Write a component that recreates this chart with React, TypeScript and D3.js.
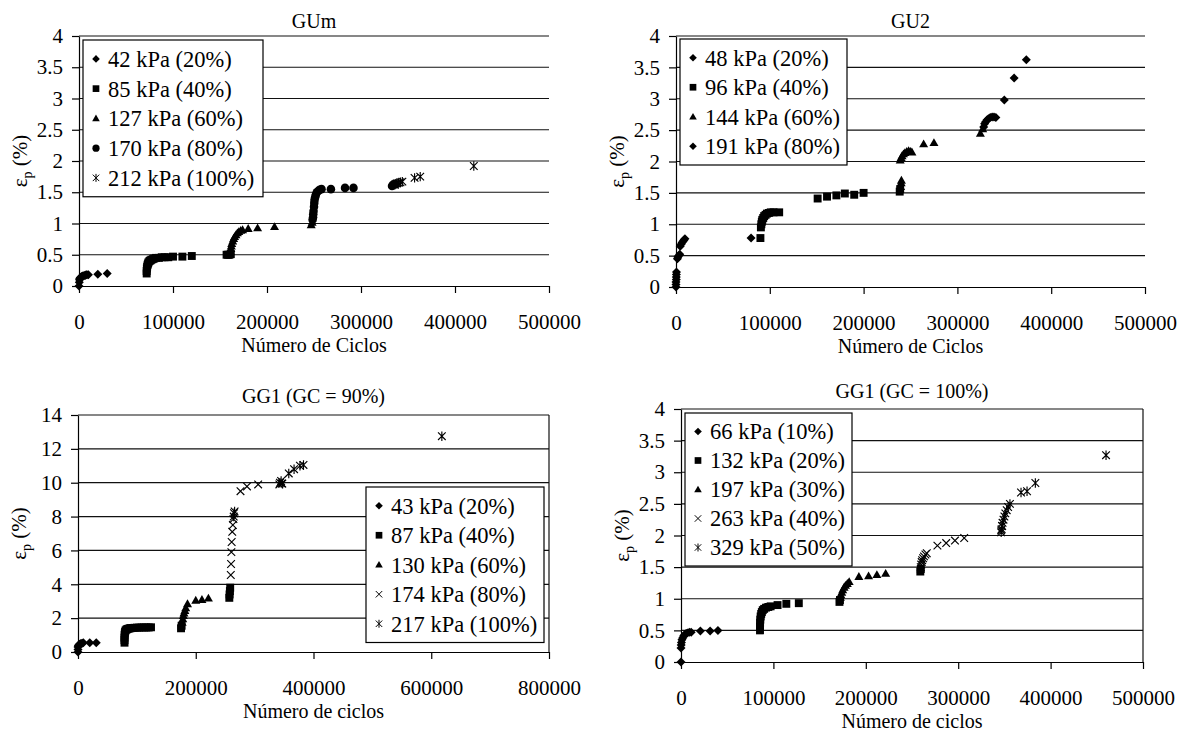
import { useEffect, useRef } from "react";
import * as d3 from "d3";

type Pt = [number, number];

// ---- GUm ----
const gumLabels = ["42 kPa (20%)", "85 kPa (40%)", "127 kPa (60%)", "170 kPa (80%)", "212 kPa (100%)"];
const gumMarkers = ["diamond", "square", "triangle", "circle", "asterisk"];
const gum42: Pt[] = [[0, 0], [300, 0.06], [500, 0.1], [800, 0.12], [1200, 0.13], [1800, 0.14], [2500, 0.15], [3500, 0.16], [4500, 0.16], [5500, 0.17], [6500, 0.17], [7500, 0.18], [8500, 0.18], [10000, 0.18], [20000, 0.19], [30000, 0.2]];
const gum85: Pt[] = [[72000, 0.2], [72000, 0.24], [72200, 0.28], [72500, 0.31], [73000, 0.34], [73500, 0.36], [74000, 0.38], [75000, 0.4], [76000, 0.41], [77000, 0.42], [78500, 0.43], [80000, 0.44], [82000, 0.45], [85000, 0.45], [88000, 0.46], [91000, 0.46], [95000, 0.46], [100000, 0.47], [110000, 0.47], [120000, 0.48], [157000, 0.5], [158500, 0.5], [160000, 0.5], [161500, 0.51]];
const gum127: Pt[] = [[161000, 0.55], [161500, 0.6], [162000, 0.64], [162500, 0.68], [163500, 0.72], [164500, 0.76], [165500, 0.79], [167000, 0.82], [168500, 0.85], [170000, 0.87], [172000, 0.89], [174000, 0.9], [180000, 0.92], [190000, 0.93], [208000, 0.95], [247000, 0.98], [248000, 1.02]];
const gum170: Pt[] = [[248500, 1.06], [249000, 1.1], [249200, 1.15], [249500, 1.2], [250000, 1.27], [250300, 1.33], [250600, 1.38], [251200, 1.42], [252000, 1.46], [253000, 1.5], [254500, 1.52], [256000, 1.54], [258000, 1.55], [268000, 1.55], [283000, 1.57], [292000, 1.57], [333000, 1.6], [334000, 1.62], [335500, 1.63], [337000, 1.63]];
const gum212: Pt[] = [[336000, 1.62], [338000, 1.64], [340000, 1.65], [342000, 1.66], [344000, 1.67], [357000, 1.73], [363000, 1.75], [420000, 1.92]];

// ---- GU2 ----
const gu2Labels = ["48 kPa (20%)", "96 kPa (40%)", "144 kPa (60%)", "191 kPa (80%)"];
const gu2Markers = ["diamond", "square", "triangle", "diamond"];
const gu2_48: Pt[] = [[0, 0], [0, 0.04], [0, 0.08], [300, 0.12], [300, 0.16], [400, 0.2], [500, 0.24], [1500, 0.45], [2000, 0.48], [3000, 0.5], [4000, 0.52], [4500, 0.65], [5500, 0.68], [6500, 0.71], [7500, 0.73], [8500, 0.75], [9500, 0.77], [80000, 0.78]];
const gu2_96: Pt[] = [[90000, 0.78], [90500, 0.95], [91000, 1.0], [91500, 1.04], [92000, 1.07], [93000, 1.1], [94000, 1.13], [95500, 1.15], [97000, 1.17], [99000, 1.18], [101000, 1.19], [104000, 1.19], [110000, 1.19], [151000, 1.41], [161000, 1.44], [171000, 1.46], [180000, 1.49], [190000, 1.47], [200000, 1.5], [238500, 1.52], [239000, 1.56]];
const gu2_144: Pt[] = [[239500, 1.6], [240000, 1.66], [240300, 1.7], [239000, 2.02], [240000, 2.06], [241000, 2.09], [242500, 2.12], [244000, 2.14], [246000, 2.16], [248000, 2.17], [250000, 2.16], [251500, 2.15], [264000, 2.28], [275000, 2.3], [324500, 2.45], [327000, 2.52]];
const gu2_191: Pt[] = [[328000, 2.55], [329000, 2.6], [330000, 2.63], [331500, 2.66], [333000, 2.68], [335000, 2.7], [337000, 2.71], [339000, 2.71], [341000, 2.7], [350000, 2.98], [360500, 3.33], [373500, 3.62]];

// ---- GG1 (GC = 90%) ----
const gg90Labels = ["43 kPa (20%)", "87 kPa (40%)", "130 kPa (60%)", "174 kPa (80%)", "217 kPa (100%)"];
const gg90Markers = ["diamond", "square", "triangle", "cross", "asterisk"];
const gg90_43: Pt[] = [[0, 0], [0, 0.15], [0, 0.3], [500, 0.35], [1000, 0.4], [2000, 0.44], [3500, 0.47], [5000, 0.5], [7000, 0.52], [9000, 0.55], [20000, 0.55], [31000, 0.55]];
const gg90_87: Pt[] = [[79000, 0.55], [79000, 0.7], [79000, 0.85], [79200, 1.0], [79500, 1.1], [80000, 1.2], [81000, 1.28], [82500, 1.33], [84000, 1.36], [86000, 1.38], [88000, 1.4], [90000, 1.41], [93000, 1.42], [96000, 1.43], [100000, 1.44], [104000, 1.44], [108000, 1.45], [112000, 1.45], [116000, 1.45], [120000, 1.45], [124000, 1.46], [175000, 1.4], [176000, 1.55], [257000, 3.2], [257500, 3.4], [258000, 3.6], [258500, 3.8]];
const gg90_130: Pt[] = [[177000, 1.75], [178000, 1.95], [179000, 2.15], [180000, 2.3], [181500, 2.45], [183000, 2.6], [186000, 2.85], [200000, 3.05], [210500, 3.1], [221500, 3.18]];
const gg90_174: Pt[] = [[259500, 4.55], [260000, 5.2], [260500, 5.9], [261000, 6.5], [262000, 7.1], [263000, 7.5], [264000, 7.85], [276000, 9.5], [287000, 9.78], [306000, 9.9], [342000, 9.9], [346000, 9.95]];
const gg90_217: Pt[] = [[264500, 8.0], [265000, 8.2], [266000, 8.3], [343000, 10.0], [345000, 10.1], [347000, 9.95], [358000, 10.55], [367000, 10.8], [377000, 11.0], [383000, 11.05], [618000, 12.75]];

// ---- GG1 (GC = 100%) ----
const gg100Labels = ["66 kPa (10%)", "132 kPa (20%)", "197 kPa (30%)", "263 kPa (40%)", "329 kPa (50%)"];
const gg100Markers = ["diamond", "square", "triangle", "cross", "asterisk"];
const gg100_66: Pt[] = [[0, 0], [0, 0.22], [200, 0.27], [500, 0.31], [1000, 0.35], [1800, 0.38], [2800, 0.41], [4000, 0.43], [5500, 0.45], [7000, 0.46], [9000, 0.47], [11000, 0.47], [21000, 0.49], [31500, 0.49], [40000, 0.5]];
const gg100_132: Pt[] = [[85500, 0.5], [85500, 0.56], [85600, 0.62], [85800, 0.67], [86200, 0.72], [86800, 0.76], [87500, 0.79], [88500, 0.82], [90000, 0.84], [92000, 0.86], [94500, 0.87], [97000, 0.88], [104500, 0.9], [114000, 0.92], [127500, 0.93], [171500, 0.95], [172000, 0.98], [259000, 1.43], [259500, 1.47]];
const gg100_197: Pt[] = [[172500, 1.02], [173000, 1.06], [174000, 1.1], [175000, 1.14], [176500, 1.18], [178000, 1.21], [180000, 1.24], [182000, 1.27], [192500, 1.35], [203000, 1.36], [212000, 1.38], [221500, 1.4]];
const gg100_263: Pt[] = [[259500, 1.5], [260000, 1.54], [260500, 1.58], [261000, 1.61], [262000, 1.64], [263000, 1.67], [264500, 1.7], [266000, 1.72], [277500, 1.84], [287000, 1.88], [296500, 1.92], [306500, 1.96], [346500, 2.08], [347500, 2.15]];
const gg100_329: Pt[] = [[346500, 2.05], [347000, 2.1], [347500, 2.15], [348000, 2.2], [349000, 2.25], [350000, 2.3], [351000, 2.35], [352500, 2.4], [354000, 2.45], [356000, 2.5], [368000, 2.68], [374500, 2.7], [383500, 2.83], [460000, 3.27]];

const xTicks500 = [0, 100000, 200000, 300000, 400000, 500000];
const xTicks800 = [0, 200000, 400000, 600000, 800000];
const yTicks4 = [0, 0.5, 1, 1.5, 2, 2.5, 3, 3.5, 4];
const yTicks14 = [0, 2, 4, 6, 8, 10, 12, 14];

const FONT = "Liberation Serif, Times New Roman, serif";

// marker shapes, size = half-width
const shapes: Record<string, { draw: (c: any, r: number) => void }> = {
  diamond: { draw: (c, r) => { c.moveTo(0, -r); c.lineTo(r, 0); c.lineTo(0, r); c.lineTo(-r, 0); c.closePath(); } },
  square: { draw: (c, r) => { c.rect(-r * 0.88, -r * 0.88, r * 1.76, r * 1.76); } },
  triangle: { draw: (c, r) => { c.moveTo(0, -r); c.lineTo(r, r * 0.75); c.lineTo(-r, r * 0.75); c.closePath(); } },
  circle: { draw: (c, r) => { c.moveTo(r * 0.95, 0); c.arc(0, 0, r * 0.95, 0, Math.PI * 2); } },
  cross: { draw: (c, r) => { const a = r * 0.85; c.moveTo(-a, -a); c.lineTo(a, a); c.moveTo(-a, a); c.lineTo(a, -a); } },
  asterisk: { draw: (c, r) => { const a = r * 0.85; c.moveTo(-a, -a); c.lineTo(a, a); c.moveTo(-a, a); c.lineTo(a, -a); c.moveTo(0, -r * 1.05); c.lineTo(0, r * 1.05); } },
};
const stroked = (m: string) => m === "cross" || m === "asterisk";

function App() {
  const svgRef = useRef(null);

  useEffect(() => {
    const svg = d3.select(svgRef.current);
    svg.selectAll("*").remove();

    const panels = [
      {
        title: "GUm", xTitle: "Número de Ciclos", left: 79, right: 549, top: 36, bottom: 286,
        titleY: 28, xMax: 500000, yMax: 4, xTicks: xTicks500, yTicks: yTicks4, border: false,
        series: [gum42, gum85, gum127, gum170, gum212], markers: gumMarkers, labels: gumLabels,
        legend: { x: 83, y: 40, w: 180, row: 29.75 },
      },
      {
        title: "GU2", xTitle: "Número de Ciclos", left: 676, right: 1145, top: 36, bottom: 287,
        titleY: 28, xMax: 500000, yMax: 4, xTicks: xTicks500, yTicks: yTicks4, border: false,
        series: [gu2_48, gu2_96, gu2_144, gu2_191], markers: gu2Markers, labels: gu2Labels,
        legend: { x: 680, y: 39, w: 167, row: 29.5 },
      },
      {
        title: "GG1 (GC = 90%)", xTitle: "Número de ciclos", left: 78, right: 549, top: 415, bottom: 652,
        titleY: 403, xMax: 800000, yMax: 14, xTicks: xTicks800, yTicks: yTicks14, border: true,
        series: [gg90_43, gg90_87, gg90_130, gg90_174, gg90_217], markers: gg90Markers, labels: gg90Labels,
        legend: { x: 366, y: 487, w: 178, row: 29.5 },
      },
      {
        title: "GG1 (GC = 100%)", xTitle: "Número de ciclos", left: 681, right: 1143, top: 409, bottom: 662,
        titleY: 398, xMax: 500000, yMax: 4, xTicks: xTicks500, yTicks: yTicks4, border: true,
        series: [gg100_66, gg100_132, gg100_197, gg100_263, gg100_329], markers: gg100Markers, labels: gg100Labels,
        legend: { x: 685, y: 413, w: 167, row: 29 },
      },
    ];

    panels.forEach((p) => {
      const g = svg.append("g").attr("font-family", FONT);
      const x = d3.scaleLinear().domain([0, p.xMax]).range([p.left, p.right]);
      const y = d3.scaleLinear().domain([0, p.yMax]).range([p.bottom, p.top]);

      g.selectAll(".grid")
        .data(p.yTicks.filter((t) => t > 0))
        .join("line")
        .attr("class", "grid")
        .attr("x1", p.left)
        .attr("x2", p.right)
        .attr("y1", (d) => y(d))
        .attr("y2", (d) => y(d))
        .attr("stroke", "#111")
        .attr("stroke-width", 1.2);

      if (p.border) {
        g.append("line")
          .attr("x1", p.right).attr("x2", p.right)
          .attr("y1", p.top).attr("y2", p.bottom)
          .attr("stroke", "#111").attr("stroke-width", 1.2);
      }

      const xAxis = d3.axisBottom(x).tickValues(p.xTicks).tickSize(7).tickSizeOuter(0).tickPadding(21).tickFormat((d) => String(d));
      const gx = g.append("g").attr("transform", `translate(0,${p.bottom})`).call(xAxis);
      const yAxis = d3.axisLeft(y).tickValues(p.yTicks).tickSize(7).tickSizeOuter(0).tickPadding(9).tickFormat((d) => String(d));
      const gy = g.append("g").attr("transform", `translate(${p.left},0)`).call(yAxis);
      [gx, gy].forEach((ax) => {
        ax.attr("font-family", FONT).attr("font-size", 21);
        ax.selectAll("text").attr("fill", "#000");
        ax.selectAll("line,path").attr("stroke", "#000").attr("stroke-width", 1.2);
      });

      const cx = (p.left + p.right) / 2;
      g.append("text").attr("x", cx).attr("y", p.titleY).attr("text-anchor", "middle")
        .attr("font-size", 20).text(p.title);
      g.append("text").attr("x", cx).attr("y", p.bottom + 66).attr("text-anchor", "middle")
        .attr("font-size", 20).text(p.xTitle);

      const ly = g.append("text")
        .attr("transform", `translate(${p.left - 52},${(p.top + p.bottom) / 2}) rotate(-90)`)
        .attr("text-anchor", "middle")
        .attr("font-size", 21);
      ly.append("tspan").text("ε");
      ly.append("tspan").attr("dy", 5).attr("font-size", 14).text("p");
      ly.append("tspan").attr("dy", -5).text(" (%)");

      p.series.forEach((data, i) => {
        const m = p.markers[i];
        const sym = d3.symbol().type(shapes[m] as any).size(4.5);
        g.append("g")
          .selectAll("path")
          .data(data)
          .join("path")
          .attr("transform", (d) => `translate(${x(d[0])},${y(d[1])})`)
          .attr("d", sym as any)
          .attr("fill", stroked(m) ? "none" : "#000")
          .attr("stroke", stroked(m) ? "#000" : "none")
          .attr("stroke-width", 1.15);
      });

      // legend
      const L = p.legend;
      const h = L.row * p.labels.length + 8;
      const lg = g.append("g");
      lg.append("rect").attr("x", L.x).attr("y", L.y).attr("width", L.w).attr("height", h)
        .attr("fill", "#fff").attr("stroke", "#000").attr("stroke-width", 1.2);
      p.labels.forEach((lab, i) => {
        const yy = L.y + 4 + L.row * (i + 0.5);
        const m = p.markers[i];
        lg.append("path")
          .attr("transform", `translate(${L.x + 13},${yy})`)
          .attr("d", d3.symbol().type(shapes[m] as any).size(3.8)() as string)
          .attr("fill", stroked(m) ? "none" : "#000")
          .attr("stroke", stroked(m) ? "#000" : "none")
          .attr("stroke-width", 1);
        lg.append("text").attr("x", L.x + 25).attr("y", yy).attr("dy", "0.35em")
          .attr("font-size", 22.5).text(lab);
      });
    });
  }, []);

  return (
    <svg
      ref={svgRef}
      width={1189}
      height={731}
      style={{ position: "absolute", left: 0, top: 0, background: "#fff" }}
    />
  );
}

export default App;
